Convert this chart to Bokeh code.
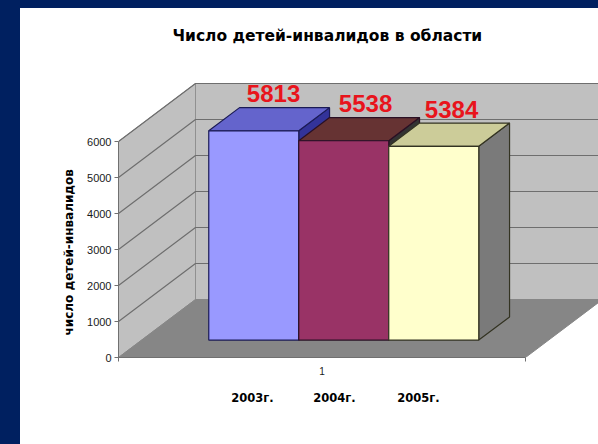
from bokeh.plotting import figure
from bokeh.embed import file_html
from bokeh.resources import INLINE
from bokeh.models import (Range1d, FixedTicker, ColumnDataSource, LinearAxis, Title)
from bokeh.core.properties import value

title_text = "Число детей-инвалидов в области"
y_title = "число детей-инвалидов"
years = ["2003г.", "2004г.", "2005г."]
counts = [5813, 5538, 5384]
y_ticks = [0, 1000, 2000, 3000, 4000, 5000, 6000]
x_tick_label = "1"
front_colors = ["#9999ff", "#993366", "#ffffcc"]
top_colors = ["#6464cc", "#663333", "#cccc99"]
side_colors = ["#333399", "#333333", "#7a7a7a"]
edge_colors = ["#1a1a55", "#2a1024", "#333322"]
year_pixel_centres = [252, 334, 418]
label_shift = [-11, -9, -13]

# layout of the oblique projection
PX_X = 407.0        # pixels per unit of the category axis
PX_Y = 0.036        # pixels per unit of value
DX = 77 / PX_X      # depth shift in x units
DY = 58 / PX_Y      # depth shift in value units
Y_MAX = 6000
BAR_W = 90 / PX_X
BAR_START = 0.165
D0, D1 = 0.30, 0.70
NAVY = "#002060"


def pr(x, v, d):
    return x + d * DX, v + d * DY


def poly(points):
    xy = [pr(*q) for q in points]
    return [a for a, _ in xy], [b for _, b in xy]


p = figure(width=598, height=444, frame_width=480, frame_height=297,
           min_border_left=118, min_border_right=0, min_border_top=60, min_border_bottom=87,
           x_range=Range1d(0, 480 / PX_X), y_range=Range1d(0, 297 / PX_Y),
           output_backend="svg", toolbar_location=None,
           background_fill_color="white", border_fill_color=None, outline_line_color=None)
p.styles = {
    "position": "absolute", "left": "0px", "top": "0px",
    "background": f"linear-gradient({NAVY},{NAVY}) 0 0/100% 8px no-repeat, "
                  f"linear-gradient({NAVY},{NAVY}) 0 0/20px 100% no-repeat, #ffffff",
}

p.title.text = title_text
p.title.align = "left"
p.title.offset = 54
p.title.standoff = 32
p.title.text_font = "DejaVu Sans"
p.title.text_font_size = "15.5px"
p.title.text_font_style = "bold"
p.title.text_color = "#000000"

p.xgrid.visible = False
p.ygrid.visible = False

# axes
ya = p.yaxis[0]
ya.ticker = FixedTicker(ticks=y_ticks)
ya.bounds = (0, Y_MAX)
ya.axis_line_color = "#707070"
ya.major_tick_line_color = "#707070"
ya.major_tick_out = 4
ya.major_tick_in = 0
ya.minor_tick_line_color = None
ya.major_label_text_font = "Liberation Sans"
ya.major_label_text_font_size = "11px"
ya.major_label_text_color = "#1a1a1a"
ya.major_label_standoff = 3

p.add_layout(Title(text=y_title, align="left", offset=22, standoff=17,
                   text_font="DejaVu Sans", text_font_size="12px", text_font_style="bold",
                   text_color="#000000"), "left")

xa = p.xaxis[0]
xa.ticker = FixedTicker(ticks=[0.5], minor_ticks=[0, 1])
xa.major_label_overrides = {0.5: x_tick_label}
xa.bounds = (0, 1)
xa.axis_line_color = "#707070"
xa.major_tick_line_color = None
xa.major_tick_out = 0
xa.minor_tick_line_color = "#707070"
xa.minor_tick_out = 4
xa.minor_tick_in = 0
xa.major_label_text_font = "Liberation Sans"
xa.major_label_text_font_size = "10px"
xa.major_label_text_color = "#1a1a1a"
xa.major_label_standoff = 5

# second row of the category axis: the year captions
year_ticks = [(c - 118) / PX_X for c in year_pixel_centres]
ya2 = LinearAxis(ticker=FixedTicker(ticks=year_ticks),
                 major_label_overrides=dict(zip(year_ticks, years)),
                 axis_line_color=None, major_tick_line_color=None, minor_tick_line_color=None,
                 major_tick_out=0, major_tick_in=0,
                 major_label_text_font="DejaVu Sans", major_label_text_font_style="bold",
                 major_label_text_font_size="11.5px", major_label_text_color="#000000",
                 major_label_standoff=13)
p.add_layout(ya2, "below")

# walls and floor
bx, by = poly([(0, 0, 1), (1, 0, 1), (1, Y_MAX, 1), (0, Y_MAX, 1)])
p.patch(bx, by, fill_color="#c0c0c0", line_color="#a0a0a0", line_width=1)
lx, ly = poly([(0, 0, 0), (0, 0, 1), (0, Y_MAX, 1), (0, Y_MAX, 0)])
p.patch(lx, ly, fill_color="#c0c0c0", line_color="#909090", line_width=1)
fx, fy = poly([(0, 0, 0), (1, 0, 0), (1, 0, 1), (0, 0, 1)])
p.patch(fx, fy, fill_color="#868686", line_color="#868686", line_width=1)

# gridlines on the walls
gx, gy = [], []
for t in y_ticks[1:]:
    a, b = poly([(0, t, 0), (0, t, 1), (1, t, 1)])
    gx.append(a)
    gy.append(b)
p.multi_line(gx, gy, line_color="#6e6e6e", line_width=1.2)

# bars
for i, v in enumerate(counts):
    x0 = BAR_START + i * BAR_W
    x1 = x0 + BAR_W
    e = edge_colors[i]
    sx, sy = poly([(x1, 0, D0), (x1, 0, D1), (x1, v, D1), (x1, v, D0)])
    p.patch(sx, sy, fill_color=side_colors[i], line_color=e, line_width=1.2)
    tx, ty = poly([(x0, v, D0), (x1, v, D0), (x1, v, D1), (x0, v, D1)])
    p.patch(tx, ty, fill_color=top_colors[i], line_color=e, line_width=1.2)
    qx, qy = poly([(x0, 0, D0), (x1, 0, D0), (x1, v, D0), (x0, v, D0)])
    p.patch(qx, qy, fill_color=front_colors[i], line_color=e, line_width=1.2)

# value labels
lab_x, lab_y = [], []
for i, v in enumerate(counts):
    a, b = pr(BAR_START + (i + 0.5) * BAR_W, v, D1)
    lab_x.append(a + label_shift[i] / PX_X)
    lab_y.append(b + 14 / PX_Y)
src = ColumnDataSource(dict(x=lab_x, y=lab_y, t=[str(v) for v in counts]))
p.text("x", "y", text="t", source=src, text_color="#e8141c",
       text_font=value("Liberation Sans"), text_font_style="bold", text_font_size="24px",
       text_align="center", text_baseline="middle")

open("out.html", "w").write(file_html(p, INLINE))
